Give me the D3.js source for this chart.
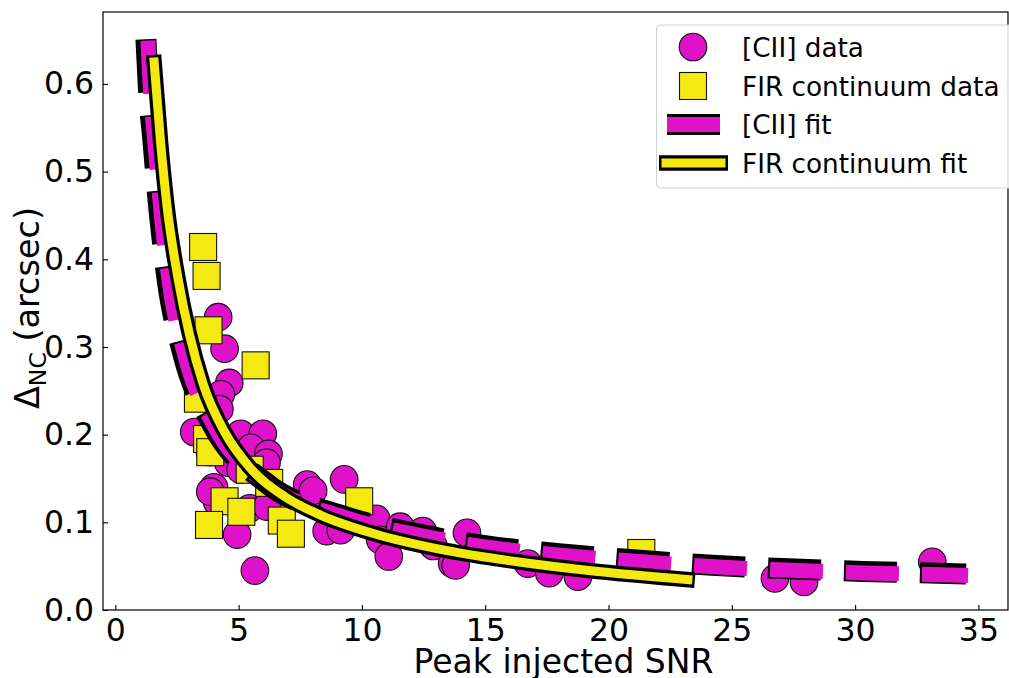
<!DOCTYPE html>
<html>
<head>
<meta charset="utf-8">
<script src="https://cdn.jsdelivr.net/npm/d3@7"></script>
<style>
  body { margin: 0; background: #fff; }
  svg { display: block; font-family: "DejaVu Sans", sans-serif; }
</style>
</head>
<body>
<svg id="chart" width="1009" height="678"></svg>
<script>
// [CII] measurements
const ciiSnr = [4.17, 4.43, 4.62, 4.28, 4.22, 3.2, 3.84, 5.08, 5.98, 5.5, 6.21, 6.13, 4.58, 5.08, 4.0, 4.13, 3.85,
  4.94, 5.45, 5.66, 6.25, 6.15, 7.78, 8.02, 9.28, 8.57, 9.14, 10.58, 10.74, 11.09, 11.55, 12.47, 12.77, 12.9,
  13.66, 13.8, 14.26, 16.73, 17.6, 18.76, 26.75, 27.93, 33.13];
const ciiOffset = [0.334, 0.298, 0.259, 0.246, 0.229, 0.203, 0.180, 0.201, 0.201, 0.185, 0.178, 0.168, 0.168, 0.160, 0.140, 0.123, 0.135,
  0.086, 0.116, 0.045, 0.128, 0.118, 0.143, 0.136, 0.149, 0.090, 0.091, 0.104, 0.080, 0.061, 0.095, 0.090, 0.080, 0.073,
  0.053, 0.051, 0.088, 0.053, 0.042, 0.038, 0.036, 0.032, 0.055];

// FIR continuum measurements
const firSnr = [3.56, 3.70, 3.78, 5.69, 3.35, 3.72, 3.85, 5.45, 6.24, 4.43, 3.80, 5.11, 6.75, 7.12, 9.89, 21.33];
const firOffset = [0.414, 0.381, 0.319, 0.279, 0.241, 0.195, 0.180, 0.160, 0.145, 0.124, 0.097, 0.112, 0.102, 0.087, 0.124, 0.065];

// fitted curves
const ciiFitSnr = [1.24, 1.34, 1.54, 1.70, 2.11, 2.76, 3.92, 6.16, 9.14, 12.06, 15.07, 18.1, 21.15, 24.2, 27.3, 30.3, 33.4, 34.5];
const ciiFitOffset = [0.651, 0.596, 0.530, 0.477, 0.375, 0.290, 0.212, 0.144, 0.108, 0.088, 0.073, 0.064, 0.057, 0.051, 0.047, 0.044, 0.042, 0.041];
const firFitSnr = [1.55, 1.84, 2.1, 2.55, 3.0, 3.56, 4.43, 5.44, 6.89, 8.34, 10.5, 13.4, 16.3, 19.2, 23.5];
const firFitOffset = [0.633, 0.532, 0.460, 0.377, 0.315, 0.258, 0.203, 0.163, 0.129, 0.108, 0.087, 0.068, 0.055, 0.045, 0.034];

const xTicks = [0, 5, 10, 15, 20, 25, 30, 35];
const yTicks = [0.0, 0.1, 0.2, 0.3, 0.4, 0.5, 0.6];

const magenta = "#e012c9";
const yellow = "#f4ea12";

const svg = d3.select("#chart");
const m = {left: 103, right: 1008, top: 12, bottom: 610};

const x = d3.scaleLinear().domain([-0.5, 36.2]).range([m.left, m.right]);
const y = d3.scaleLinear().domain([0, 0.682]).range([m.bottom, m.top]);

const cii = ciiSnr.map((s, i) => ({s, o: ciiOffset[i]}));
const fir = firSnr.map((s, i) => ({s, o: firOffset[i]}));
const ciiFit = ciiFitSnr.map((s, i) => ({s, o: ciiFitOffset[i]}));
const firFit = firFitSnr.map((s, i) => ({s, o: firFitOffset[i]}));

const plot = svg.append("g");

// markers first, lines drawn over them
plot.append("g")
  .selectAll("circle")
  .data(cii)
  .join("circle")
  .attr("cx", d => x(d.s))
  .attr("cy", d => y(d.o))
  .attr("r", 13.8)
  .attr("fill", magenta)
  .attr("stroke", "#111")
  .attr("stroke-width", 1.1);

const sq = 27;
plot.append("g")
  .selectAll("rect")
  .data(fir)
  .join("rect")
  .attr("x", d => x(d.s) - sq / 2)
  .attr("y", d => y(d.o) - sq / 2)
  .attr("width", sq)
  .attr("height", sq)
  .attr("fill", yellow)
  .attr("stroke", "#111")
  .attr("stroke-width", 1.1);

const line = d3.line()
  .x(d => x(d.s))
  .y(d => y(d.o))
  .curve(d3.curveMonotoneX);

const dash = "53 23";

// [CII] fit: black dashed band with the magenta dash slightly shifted
plot.append("path")
  .attr("d", line(ciiFit))
  .attr("fill", "none")
  .attr("stroke", "#000")
  .attr("stroke-width", 21)
  .attr("stroke-dasharray", dash);

plot.append("path")
  .attr("d", line(ciiFit))
  .attr("transform", "translate(2,1.5)")
  .attr("fill", "none")
  .attr("stroke", magenta)
  .attr("stroke-width", 15)
  .attr("stroke-dasharray", dash);

// FIR fit: yellow with black outline
plot.append("path")
  .attr("d", line(firFit))
  .attr("fill", "none")
  .attr("stroke", "#000")
  .attr("stroke-width", 15.5);

const firInner = plot.append("path")
  .attr("d", line(firFit))
  .attr("fill", "none")
  .attr("stroke", yellow)
  .attr("stroke-width", 9);
const len = firInner.node().getTotalLength();
firInner.attr("stroke-dasharray", `0 2.5 ${len - 5} 20`);

// frame
svg.append("rect")
  .attr("x", m.left).attr("y", m.top)
  .attr("width", m.right - m.left).attr("height", m.bottom - m.top)
  .attr("fill", "none")
  .attr("stroke", "#000")
  .attr("stroke-width", 1.2);

// axes, ticks pointing inward
const xAxis = svg.append("g")
  .attr("transform", `translate(0,${m.bottom})`)
  .call(d3.axisBottom(x).tickValues(xTicks).tickSizeInner(-5).tickSizeOuter(0).tickPadding(9));
const yAxis = svg.append("g")
  .attr("transform", `translate(${m.left},0)`)
  .call(d3.axisLeft(y).tickValues(yTicks).tickFormat(d3.format(".1f")).tickSizeInner(-5).tickSizeOuter(0).tickPadding(9));

[xAxis, yAxis].forEach(g => {
  g.select(".domain").remove();
  g.selectAll("text")
    .attr("font-family", "DejaVu Sans, sans-serif")
    .attr("font-size", 31.5)
    .attr("fill", "#000");
  g.selectAll("line").attr("stroke", "#000").attr("stroke-width", 1.1);
});

svg.append("text")
  .attr("x", (m.left + m.right) / 2 + 8)
  .attr("y", 673)
  .attr("text-anchor", "middle")
  .attr("font-size", 33)
  .text("Peak injected SNR");

const ylab = svg.append("text")
  .attr("transform", `translate(39,${(m.top + m.bottom) / 2 - 3}) rotate(-90)`)
  .attr("text-anchor", "middle")
  .attr("font-size", 33.5);
ylab.append("tspan").text("Δ");
ylab.append("tspan").attr("font-size", 23.5).attr("dy", 7).text("NC");
ylab.append("tspan").attr("dy", -7).text(" (arcsec)");

// legend
const lg = svg.append("g");
lg.append("rect")
  .attr("x", 656.5).attr("y", 25)
  .attr("width", 360).attr("height", 163)
  .attr("rx", 4)
  .attr("fill", "#fff").attr("fill-opacity", 0.85)
  .attr("stroke", "#d0d0d0").attr("stroke-width", 1);

const legendItems = ["[CII] data", "FIR continuum data", "[CII] fit", "FIR continuum fit"];
const rowY = [47, 86, 124.5, 163];

lg.append("circle")
  .attr("cx", 693).attr("cy", rowY[0]).attr("r", 13.8)
  .attr("fill", magenta).attr("stroke", "#111").attr("stroke-width", 1.1);
lg.append("rect")
  .attr("x", 693 - sq / 2).attr("y", rowY[1] - sq / 2)
  .attr("width", sq).attr("height", sq)
  .attr("fill", yellow).attr("stroke", "#111").attr("stroke-width", 1.1);
lg.append("line")
  .attr("x1", 667).attr("x2", 720).attr("y1", rowY[2]).attr("y2", rowY[2])
  .attr("stroke", "#000").attr("stroke-width", 21);
lg.append("line")
  .attr("x1", 667).attr("x2", 720).attr("y1", rowY[2]).attr("y2", rowY[2])
  .attr("stroke", magenta).attr("stroke-width", 15);
lg.append("line")
  .attr("x1", 659).attr("x2", 728).attr("y1", rowY[3]).attr("y2", rowY[3])
  .attr("stroke", "#000").attr("stroke-width", 15.5);
lg.append("line")
  .attr("x1", 661.5).attr("x2", 725.5).attr("y1", rowY[3]).attr("y2", rowY[3])
  .attr("stroke", yellow).attr("stroke-width", 9);

lg.selectAll("text.item")
  .data(legendItems)
  .join("text")
  .attr("class", "item")
  .attr("x", 742)
  .attr("y", (d, i) => rowY[i] + 9.5)
  .attr("font-size", 26.3)
  .attr("fill", "#000")
  .text(d => d);
</script>
</body>
</html>
